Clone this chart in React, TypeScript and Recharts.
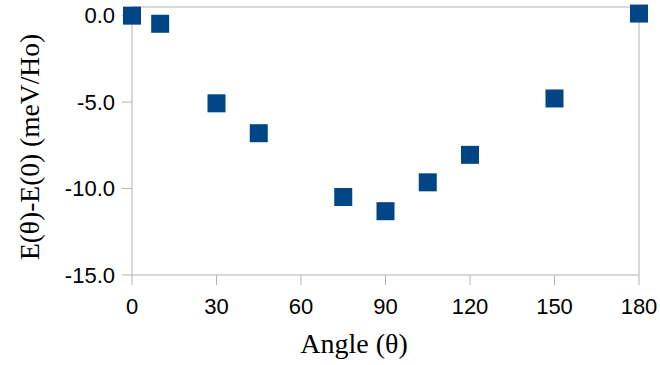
import React from "react";
import { ScatterChart, Scatter, XAxis, YAxis, CartesianGrid } from "recharts";

const angles = [0, 10, 30, 45, 75, 90, 105, 120, 150, 180];
const energies = [0.0, -0.47, -5.07, -6.8, -10.49, -11.31, -9.64, -8.05, -4.79, 0.12];
const xTicks = [0, 30, 60, 90, 120, 150, 180];
const yTicks = [-15, -10, -5, 0];
const xDomain = [0, 180];
const yDomain = [-15, 0.5];

const data = angles.map((a, i) => ({ x: a, y: energies[i] }));

const AXIS = "#b3b3b3";
const MARK = "#004586";
const SANS = "'Liberation Sans', Arial, sans-serif";
const SERIF = "'Liberation Serif', 'Times New Roman', serif";

const Square = (props: any) => {
  const { cx, cy } = props;
  return <rect x={cx - 9} y={cy - 9} width={18} height={18} fill={MARK} />;
};

const YTitle = (props: any) => {
  const { viewBox } = props;
  const cx = 29;
  const cy = viewBox.y + viewBox.height / 2 + 6;
  return (
    <text
      x={cx}
      y={cy}
      transform={`rotate(-90 ${cx} ${cy})`}
      textAnchor="middle"
      dominantBaseline="central"
      fontFamily={SERIF}
      fontSize={27.5}
      fill="#000"
    >
      E(θ)-E(0) (meV/Ho)
    </text>
  );
};

const XTitle = (props: any) => {
  const { viewBox } = props;
  const cx = 354;
  const y = viewBox.y + 78;
  return (
    <text x={cx} y={y} textAnchor="middle" fontFamily={SERIF} fontSize={28} fill="#000">
      Angle (θ)
    </text>
  );
};

export default function App() {
  return (
    <div style={{ position: "absolute", left: 0, top: 0, width: 660, height: 365, background: "#fff" }}>
      <ScatterChart width={660} height={365} margin={{ top: 7, right: 21, bottom: 0, left: 0 }}>
        <CartesianGrid
          xAxisId="main"
          yAxisId="main"
          stroke={AXIS}
          strokeWidth={1}
          horizontalCoordinatesGenerator={(p: any) => [p.offset.top]}
          verticalCoordinatesGenerator={(p: any) => [p.offset.left + p.offset.width]}
        />
        <XAxis
          xAxisId="main"
          type="number"
          dataKey="x"
          domain={xDomain}
          ticks={xTicks}
          interval={0}
          height={90}
          tickSize={10}
          tickMargin={13}
          axisLine={{ stroke: AXIS, strokeWidth: 1 }}
          tickLine={{ stroke: AXIS, strokeWidth: 1 }}
          tick={{ fill: "#000", fontSize: 22, fontFamily: SANS }}
          label={<XTitle />}
        />
        <YAxis
          yAxisId="main"
          type="number"
          dataKey="y"
          domain={yDomain}
          ticks={yTicks}
          interval={0}
          width={132}
          tickSize={10}
          tickMargin={7}
          tickFormatter={(v: number) => v.toFixed(1)}
          axisLine={{ stroke: AXIS, strokeWidth: 1 }}
          tickLine={{ stroke: AXIS, strokeWidth: 1 }}
          tick={{ fill: "#000", fontSize: 22, fontFamily: SANS }}
          label={<YTitle />}
        />
        <Scatter
          data={data}
          xAxisId="main"
          yAxisId="main"
          fill={MARK}
          shape={<Square />}
          isAnimationActive={false}
        />
      </ScatterChart>
    </div>
  );
}
